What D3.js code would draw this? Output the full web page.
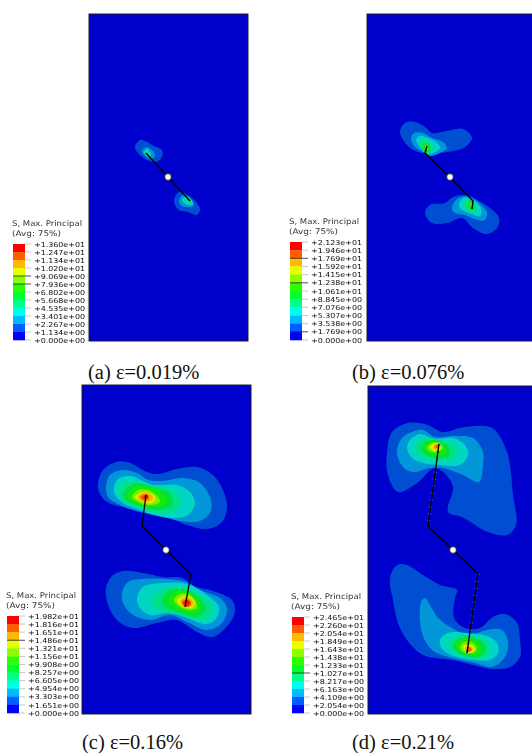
<!DOCTYPE html>
<html>
<head>
<meta charset="utf-8">
<script src="https://cdn.jsdelivr.net/npm/d3@7"></script>
<style>
  html, body { margin: 0; padding: 0; background: #fff; overflow: hidden; }
  svg { display: block; }
</style>
</head>
<body>
<div id="chart"></div>
<script>
// Etiquetas de la leyenda, de arriba hacia abajo
const labelsA = ["+1.360e+01","+1.247e+01","+1.134e+01","+1.020e+01","+9.069e+00","+7.936e+00","+6.802e+00","+5.668e+00","+4.535e+00","+3.401e+00","+2.267e+00","+1.134e+00","+0.000e+00"];
const labelsB = ["+2.123e+01","+1.946e+01","+1.769e+01","+1.592e+01","+1.415e+01","+1.238e+01","+1.061e+01","+8.845e+00","+7.076e+00","+5.307e+00","+3.538e+00","+1.769e+00","+0.000e+00"];
const labelsC = ["+1.982e+01","+1.816e+01","+1.651e+01","+1.486e+01","+1.321e+01","+1.156e+01","+9.908e+00","+8.257e+00","+6.605e+00","+4.954e+00","+3.303e+00","+1.651e+00","+0.000e+00"];
const labelsD = ["+2.465e+01","+2.260e+01","+2.054e+01","+1.849e+01","+1.643e+01","+1.438e+01","+1.233e+01","+1.027e+01","+8.217e+00","+6.163e+00","+4.109e+00","+2.054e+00","+0.000e+00"];

const legendColors = ["#ff0000","#ff5d00","#ffb900","#e8ff00","#8bff00","#2eff00","#00ff2e","#00ff8b","#00ffe8","#00b9ff","#005dff","#0000ff"];
// Colores del campo: banda 0 es el fondo de la placa
const bandColors = ["#0000cd","#0050d2","#0096d8","#00d6c4","#00e08a","#00e03c","#18ea08","#7cf000","#e2ea00","#f8b000","#f06000","#dc2000"];

// Marcas oscuras de la leyenda (índice de etiqueta)
const darkTicksA = [4, 5];
const darkTicksB = [2, 5, 11];
const darkTicksC = [3];
const darkTicksD = [7];

// Contornos en unidades de placa, ordenados de la banda 1 hacia arriba
const contoursAUpper = [
  [[46,133],[51,126],[58,128],[65,132],[73,136],[73,143],[67,148],[58,146],[50,140]],
  [[53,137],[58,133],[64,137],[66,142],[62,145],[57,143]],
  [[55,138],[58,135],[62,140],[61,143],[58,142]],
  [[56,139],[58,137],[60,141],[58,142]]
];
const contoursALower = [
  [[85,187],[90,178],[99,181],[107,188],[111,195],[108,201],[99,198],[90,196]],
  [[90,187],[94,181],[100,184],[105,191],[99,193],[93,192]],
  [[93,186],[97,182],[102,185],[104,190],[99,191]],
  [[97,185],[99,183],[103,188],[100,190]]
];
const contoursBUpper = [
  [[33,118],[38,109],[48,108],[58,113],[65,119],[80,117],[96,115],[105,124],[98,133],[81,138],[65,139],[51,138],[40,131]],
  [[44,125],[47,119],[56,119],[65,124],[76,128],[80,134],[73,139],[63,142],[56,138],[48,133]],
  [[49,126],[53,122],[61,124],[70,129],[73,134],[66,139],[60,140],[53,133]],
  [[52,129],[56,125],[62,128],[66,133],[64,138],[58,139],[54,133]],
  [[55,130],[58,128],[62,131],[63,136],[58,139],[56,134]],
  [[56,132],[59,129],[62,133],[61,137],[58,139]],
  [[58,133],[60,131],[61,135],[59,137]]
];
const contoursBLower = [
  [[58,199],[63,191],[78,189],[86,183],[98,181],[110,186],[123,194],[132,204],[130,214],[120,220],[106,214],[95,204],[80,209],[65,209]],
  [[85,194],[90,185],[101,182],[111,188],[120,198],[118,206],[111,206],[98,201],[88,199]],
  [[92,191],[96,184],[105,185],[114,194],[113,202],[105,200],[95,196]],
  [[96,191],[100,185],[106,188],[110,196],[105,199],[98,195]],
  [[100,191],[103,187],[107,190],[108,195],[104,196]],
  [[102,191],[105,189],[107,193],[105,195]],
  [[103,191],[105,190],[106,193]]
];
const contoursCUpper = [
  [[16,98],[21,85],[35,77],[48,78],[65,87],[76,89],[95,84],[115,82],[131,90],[141,105],[145,122],[140,137],[125,144],[105,140],[88,133],[65,128],[41,122],[25,117],[17,107]],
  [[24,102],[28,90],[41,85],[55,88],[66,95],[80,96],[101,93],[118,98],[129,115],[128,128],[118,136],[98,136],[75,130],[58,127],[38,120],[26,112]],
  [[32,107],[35,95],[48,91],[63,97],[71,100],[95,100],[108,107],[113,118],[106,130],[91,133],[71,130],[58,125],[41,118]],
  [[36,108],[41,98],[51,96],[65,100],[81,102],[95,108],[99,118],[91,127],[76,128],[60,123],[45,118]],
  [[41,110],[48,101],[58,98],[71,102],[86,107],[91,117],[83,124],[68,124],[55,120],[45,117]],
  [[46,110],[53,102],[65,102],[80,108],[85,117],[76,122],[63,121],[51,117]],
  [[50,112],[56,105],[66,105],[76,112],[78,117],[70,120],[58,118]],
  [[53,112],[60,107],[68,108],[74,113],[70,118],[61,117]],
  [[56,112],[61,108],[68,109],[71,114],[65,117],[60,116]],
  [[58,112],[63,109],[67,111],[66,115],[61,115]],
  [[61,112],[65,110],[66,112],[63,114]]
];
const contoursCLower = [
  [[24,203],[30,191],[41,186],[61,188],[81,192],[100,193],[111,201],[131,206],[150,215],[153,227],[146,240],[131,252],[115,247],[95,235],[75,238],[51,243],[35,235],[26,220]],
  [[40,208],[46,197],[61,194],[85,194],[105,197],[118,205],[138,213],[145,223],[140,238],[125,245],[105,237],[88,230],[68,235],[51,230],[41,218]],
  [[55,213],[61,202],[81,198],[105,199],[125,210],[137,222],[133,235],[123,239],[105,233],[88,228],[68,230],[58,223]],
  [[69,217],[78,205],[98,202],[118,210],[130,220],[128,232],[118,235],[101,230],[81,227],[73,223]],
  [[80,215],[86,206],[101,204],[116,212],[123,222],[120,230],[110,232],[95,227],[83,222]],
  [[86,215],[93,207],[105,207],[115,213],[119,222],[115,227],[105,227],[93,223]],
  [[92,215],[98,209],[106,209],[113,215],[115,222],[110,225],[100,223]],
  [[95,216],[101,211],[109,212],[113,218],[110,223],[101,222]],
  [[98,217],[103,212],[109,214],[111,219],[106,222],[101,221]],
  [[100,217],[105,214],[109,217],[108,221],[103,222]],
  [[101,218],[105,215],[108,218],[105,221]]
];
const contoursDUpper = [
  [[19,66],[24,46],[40,37],[60,39],[74,46],[97,41],[124,42],[139,66],[145,109],[148,139],[139,149],[120,146],[94,131],[80,126],[85,102],[80,91],[67,82],[49,97],[30,106],[20,89]],
  [[29,66],[34,52],[44,46],[55,44],[67,51],[85,50],[105,52],[115,66],[115,79],[111,96],[95,89],[75,82],[62,82],[45,86],[35,81]],
  [[39,62],[42,54],[52,48],[67,53],[85,52],[97,59],[100,69],[92,79],[72,79],[55,77],[44,72]],
  [[47,62],[52,54],[62,52],[75,55],[87,59],[90,67],[84,74],[70,75],[57,72],[50,68]],
  [[53,62],[57,56],[67,54],[77,57],[82,64],[80,71],[70,72],[60,70]],
  [[55,62],[60,57],[69,56],[76,60],[78,66],[70,70],[62,67]],
  [[59,62],[64,57],[72,57],[75,62],[70,66],[64,66]],
  [[62,61],[67,57],[72,60],[72,64],[66,65]],
  [[65,61],[69,58],[71,62],[68,64]],
  [[67,60],[69,59],[71,61],[68,62]]
];
const contoursDLower = [
  [[22,192],[29,179],[39,179],[55,189],[72,199],[89,204],[87,212],[86,232],[97,242],[112,242],[125,231],[137,228],[149,237],[152,254],[152,271],[142,281],[125,283],[105,279],[85,274],[55,269],[39,254],[30,237],[25,214]],
  [[53,216],[57,212],[62,219],[70,232],[84,242],[100,249],[119,244],[134,244],[140,256],[137,271],[124,281],[107,277],[84,272],[64,264],[54,247]],
  [[72,254],[80,247],[99,247],[119,250],[129,257],[130,267],[122,274],[105,274],[89,271],[75,264]],
  [[80,257],[87,251],[100,250],[115,252],[122,261],[119,271],[109,273],[92,269],[84,264]],
  [[85,259],[92,252],[104,252],[115,257],[117,266],[109,271],[95,269],[88,265]],
  [[88,259],[95,253],[105,254],[113,261],[109,269],[97,267],[90,264]],
  [[92,261],[97,256],[105,257],[109,263],[104,267],[95,266]],
  [[95,261],[99,258],[105,260],[107,265],[100,267]],
  [[97,262],[101,260],[105,263],[100,266]],
  [[99,263],[101,261],[104,264],[100,266]]
];

// Trayectoria de la grieta y centro del agujero
const crackA = [[57,139],[79,163],[101,187]];
const crackB = [[60,132],[58,139],[83,163],[106,187],[105,195]];
const crackC = [[64,110],[60,141],[84,165],[109,189],[103,222]];
const crackD = [[71,58],[60,140],[85,164],[110,188],[99,267]];
const holeA = [79,163];
const holeB = [83,163];
const holeC = [84,165];
const holeD = [85,164];

const captionA = "(a) ε=0.019%";
const captionB = "(b) ε=0.076%";
const captionC = "(c) ε=0.16%";
const captionD = "(d) ε=0.21%";

const width = 532, height = 753;

const svg = d3.select("#chart").append("svg")
    .attr("width", width)
    .attr("height", height);

const defs = svg.append("defs");
defs.append("filter").attr("id", "soft")
    .append("feGaussianBlur").attr("stdDeviation", 0.35);

const contourLine = d3.line().curve(d3.curveCatmullRomClosed.alpha(0.5));

const drawPanel = (p) => {
    const x = d3.scaleLinear().domain([0, p.w]).range([p.left, p.left + p.w]);
    const y = d3.scaleLinear().domain([0, p.h]).range([p.top, p.top + p.h]);
    contourLine.x(d => x(d[0])).y(d => y(d[1]));

    const clipId = "clip" + p.id;
    defs.append("clipPath").attr("id", clipId)
        .append("rect")
        .attr("x", x(0)).attr("y", y(0))
        .attr("width", p.w).attr("height", p.h);

    const plate = svg.append("g").attr("filter", "url(#soft)");

    plate.append("rect")
        .attr("x", x(0)).attr("y", y(0))
        .attr("width", p.w).attr("height", p.h)
        .attr("fill", bandColors[0])
        .attr("stroke", "#1c2230")
        .attr("stroke-width", 1);

    const bands = plate.append("g").attr("clip-path", `url(#${clipId})`);
    [p.upper, p.lower].forEach(contours => {
        bands.append("g").selectAll("path")
            .data(contours)
            .enter()
            .append("path")
            .attr("d", d => contourLine(d))
            .attr("fill", (d, i) => bandColors[i + 1]);
    });

    const crackLine = d3.line().x(d => x(d[0])).y(d => y(d[1]));

    // la grieta larga de (d) tiene elementos claros a los lados de los tramos rectos
    if (p.id === "d") {
        [p.crack.slice(0, 2), p.crack.slice(3)].forEach(stem => {
            plate.append("path")
                .attr("d", crackLine(stem))
                .attr("fill", "none")
                .attr("stroke", "#2f78d8")
                .attr("stroke-width", 3.2)
                .attr("stroke-dasharray", "1,6");
        });
    }

    plate.append("path")
        .attr("d", crackLine(p.crack))
        .attr("fill", "none")
        .attr("stroke", "#000")
        .attr("stroke-width", p.crackWidth)
        .attr("stroke-linejoin", "round");

    plate.append("circle")
        .attr("cx", x(p.hole[0])).attr("cy", y(p.hole[1]))
        .attr("r", 3.4)
        .attr("fill", "#fff")
        .attr("stroke", "#000")
        .attr("stroke-width", 0.8);

    drawLegend(p);

    svg.append("text")
        .attr("x", p.captionX).attr("y", p.captionY)
        .attr("font-family", "'Liberation Serif', serif")
        .attr("font-size", 20.5)
        .attr("fill", "#111")
        .text(p.caption);
};

const drawLegend = (p) => {
    const g = svg.append("g").attr("filter", "url(#soft)");
    const yL = d3.scalePoint().domain(p.labels).range([p.legendTop, p.legendBottom]);

    g.selectAll("rect.swatch")
        .data(legendColors)
        .enter()
        .append("rect")
        .attr("class", "swatch")
        .attr("x", p.swatchX)
        .attr("y", (d, i) => yL(p.labels[i]))
        .attr("width", 12)
        .attr("height", yL.step() + 0.3)
        .attr("fill", d => d);

    g.selectAll("line.tick")
        .data(p.labels)
        .enter()
        .append("line")
        .attr("class", "tick")
        .attr("x1", (d, i) => p.darkTicks.includes(i) ? p.swatchX : p.swatchX + 12)
        .attr("x2", p.swatchX + 18)
        .attr("y1", d => yL(d))
        .attr("y2", d => yL(d))
        .attr("stroke", (d, i) => p.darkTicks.includes(i) ? "#222" : "#bbb")
        .attr("stroke-width", 0.8);

    g.selectAll("text.value")
        .data(p.labels)
        .enter()
        .append("text")
        .attr("class", "value")
        .attr("x", p.swatchX + 21)
        .attr("y", d => yL(d) + 2.6)
        .attr("font-family", "'DejaVu Sans', sans-serif")
        .attr("font-size", 6.8)
        .attr("textLength", 51)
        .attr("lengthAdjust", "spacingAndGlyphs")
        .attr("fill", "#111")
        .text(d => d);

    [["S, Max. Principal", 0, 70], ["(Avg: 75%)", 10, 49]].forEach(([t, dy, len]) => {
        g.append("text")
            .attr("x", p.swatchX - 1)
            .attr("y", p.titleY + dy)
            .attr("font-family", "'DejaVu Sans', sans-serif")
            .attr("font-size", 7.8)
            .attr("textLength", len)
            .attr("lengthAdjust", "spacingAndGlyphs")
            .attr("fill", "#333")
            .text(t);
    });
};

drawPanel({ id: "a", left: 89, top: 14, w: 159, h: 327, upper: contoursAUpper, lower: contoursALower,
    crack: crackA, hole: holeA, crackWidth: 1.5, labels: labelsA, darkTicks: darkTicksA,
    swatchX: 13, legendTop: 244, legendBottom: 340, titleY: 226,
    caption: captionA, captionX: 88, captionY: 379 });
drawPanel({ id: "b", left: 367, top: 14, w: 173, h: 327, upper: contoursBUpper, lower: contoursBLower,
    crack: crackB, hole: holeB, crackWidth: 1.5, labels: labelsB, darkTicks: darkTicksB,
    swatchX: 290, legendTop: 242, legendBottom: 340, titleY: 224,
    caption: captionB, captionX: 352, captionY: 379 });
drawPanel({ id: "c", left: 82, top: 385, w: 169, h: 329, upper: contoursCUpper, lower: contoursCLower,
    crack: crackC, hole: holeC, crackWidth: 1.3, labels: labelsC, darkTicks: darkTicksC,
    swatchX: 7, legendTop: 616, legendBottom: 713, titleY: 598,
    caption: captionC, captionX: 82, captionY: 748.5 });
drawPanel({ id: "d", left: 368, top: 386, w: 173, h: 328, upper: contoursDUpper, lower: contoursDLower,
    crack: crackD, hole: holeD, crackWidth: 1.4, labels: labelsD, darkTicks: darkTicksD,
    swatchX: 292, legendTop: 617, legendBottom: 713, titleY: 599,
    caption: captionD, captionX: 352, captionY: 748.5 });
</script>
</body>
</html>
